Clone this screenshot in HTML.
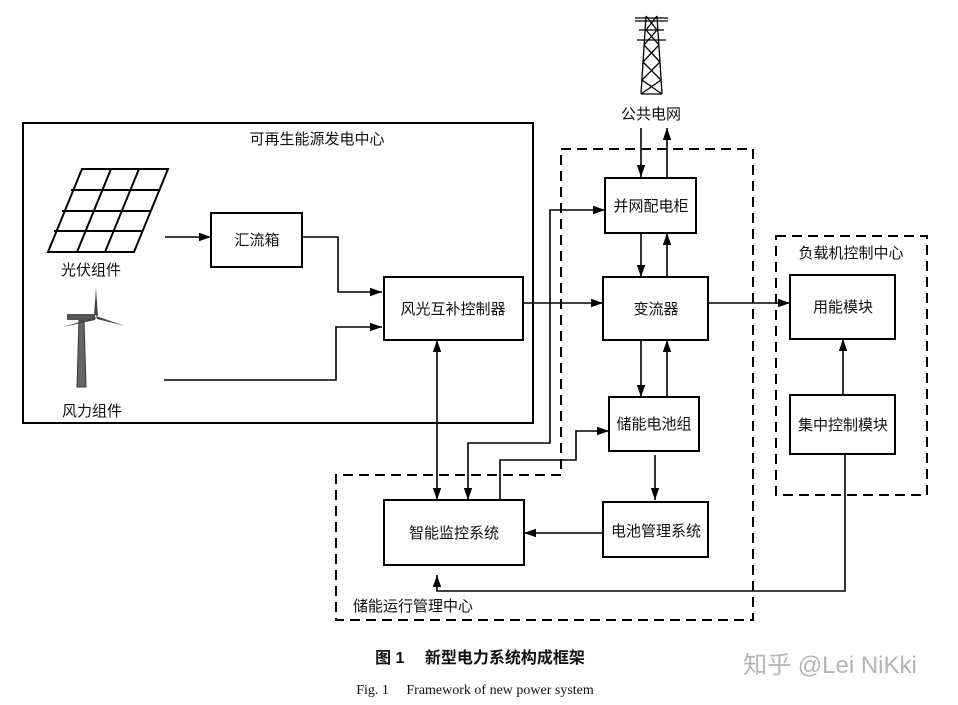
<!DOCTYPE html>
<html><head><meta charset="utf-8"><style>
html,body{margin:0;padding:0;background:#fff;}
svg{display:block;}
text{font-family:"Liberation Sans","Noto Sans CJK SC",sans-serif;fill:#111;}
</style></head><body>
<svg width="958" height="705" viewBox="0 0 958 705" xmlns="http://www.w3.org/2000/svg">
<defs>
<marker id="a" viewBox="0 0 10 10" refX="10" refY="5" markerWidth="12" markerHeight="12" markerUnits="userSpaceOnUse" orient="auto"><path d="M0,1.5 L10,5 L0,8.5 z" fill="#000"/></marker>
</defs>
<g fill="none" stroke="#000" stroke-width="2">
<rect x="23" y="123" width="510" height="300"/>
<path d="M561,149 H753 V620 H336 V475 H561 Z" stroke-dasharray="10,6"/>
<rect x="776" y="236" width="151" height="259" stroke-dasharray="10,6"/>
<rect x="211" y="213" width="91" height="54"/>
<rect x="384" y="277" width="139" height="63"/>
<rect x="605" y="178" width="91" height="55"/>
<rect x="603" y="277" width="105" height="63"/>
<rect x="609" y="397" width="90" height="54"/>
<rect x="603" y="502" width="105" height="55"/>
<rect x="384" y="500" width="140" height="65"/>
<rect x="790" y="275" width="105" height="64"/>
<rect x="790" y="395" width="105" height="59"/>
<path d="M82,169 H168 L134,252 H48 Z" stroke-width="2"/>
<path d="M54,231 H143 M62,211 H151 M71,190 H159 M111,169 L77,252 M139,169 L105,252"/>
</g>
<g fill="none" stroke="#000" stroke-width="1.6">
<path d="M165,237 H211" marker-end="url(#a)"/>
<path d="M302,237 H338 V292 H382" marker-end="url(#a)"/>
<path d="M164,380 H336 V327 H382" marker-end="url(#a)"/>
<path d="M523,303 H603" marker-end="url(#a)"/>
<path d="M708,303 H790" marker-end="url(#a)"/>
<path d="M641,128 V177" marker-end="url(#a)"/>
<path d="M667,177 V128" marker-end="url(#a)"/>
<path d="M641,233 V277" marker-end="url(#a)"/>
<path d="M667,277 V233" marker-end="url(#a)"/>
<path d="M641,340 V397" marker-end="url(#a)"/>
<path d="M667,397 V340" marker-end="url(#a)"/>
<path d="M655,455 V500" marker-end="url(#a)"/>
<path d="M603,533 H524" marker-end="url(#a)"/>
<path d="M437,420 V500" marker-end="url(#a)"/>
<path d="M437,420 V340" marker-end="url(#a)"/>
<path d="M550,330 V443 H468 V500" marker-end="url(#a)"/>
<path d="M550,330 V210 H605" marker-end="url(#a)"/>
<path d="M500,500 V460 H576 V431 H609" marker-end="url(#a)"/>
<path d="M843,395 V339" marker-end="url(#a)"/>
<path d="M845,454 V591 H437 V575" marker-end="url(#a)"/>
</g>
<g>
<path d="M77,387 L79,320 L84,320 L86,387 Z" fill="#666" stroke="#333" stroke-width="1"/>
<rect x="67" y="314" width="28" height="6" fill="#555"/>
<path d="M94,315 L96,288 L98,316 Z" fill="#444"/>
<path d="M96,316 L125,326 L97,319 Z" fill="#444"/>
<path d="M96,317 L63,327 L95,320 Z" fill="#444"/>
</g>
<g fill="none" stroke="#000" stroke-width="1.3">
<path d="M635,18 H668 M635,21 H668 M639,30 H664 M637,40 H666"/>
<path d="M646,16 L641,94 M657,16 L662,94 M641,94 H662"/>
<path d="M646,16 L657,30 L644,45 L660,62 L642,80 L662,94 M657,16 L646,30 L659,45 L643,62 L661,80 L641,94"/>
</g>
<g font-size="15">
<text x="317" y="144" text-anchor="middle">可再生能源发电中心</text>
<text x="91" y="275" text-anchor="middle">光伏组件</text>
<text x="92" y="416" text-anchor="middle">风力组件</text>
<text x="257" y="245" text-anchor="middle">汇流箱</text>
<text x="453" y="314" text-anchor="middle">风光互补控制器</text>
<text x="651" y="119" text-anchor="middle">公共电网</text>
<text x="651" y="211" text-anchor="middle">并网配电柜</text>
<text x="656" y="314" text-anchor="middle">变流器</text>
<text x="654" y="429" text-anchor="middle">储能电池组</text>
<text x="656" y="536" text-anchor="middle">电池管理系统</text>
<text x="454" y="538" text-anchor="middle">智能监控系统</text>
<text x="413" y="611" text-anchor="middle">储能运行管理中心</text>
<text x="851" y="258" text-anchor="middle">负载机控制中心</text>
<text x="843" y="312" text-anchor="middle">用能模块</text>
<text x="843" y="430" text-anchor="middle">集中控制模块</text>
</g>
<text x="480" y="663" text-anchor="middle" font-size="16" font-weight="600">图 1　 新型电力系统构成框架</text>
<text x="475" y="694" text-anchor="middle" font-size="14" style="font-family:'Liberation Serif',serif">Fig. 1　 Framework of new power system</text>
<text x="830" y="673" text-anchor="middle" font-size="24" style="fill:#b5b5b5">知乎 @Lei NiKki</text>
</svg>
</body></html>
